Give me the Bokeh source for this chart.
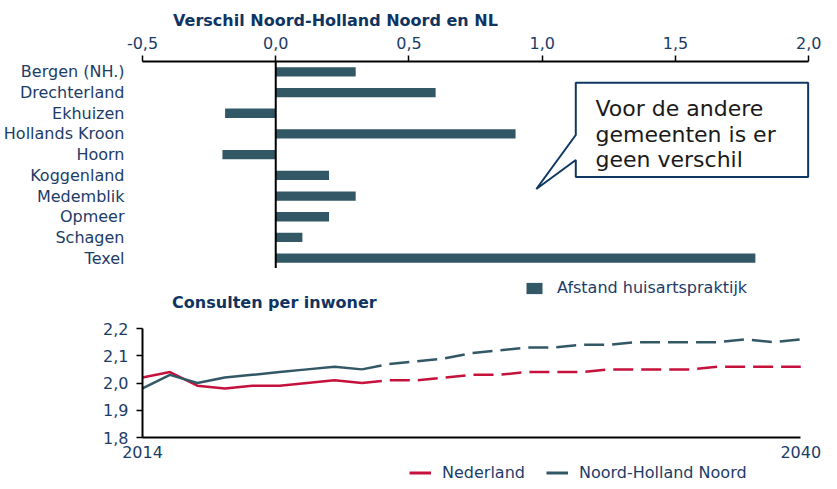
from bokeh.plotting import figure
from bokeh.models import (Range1d, FixedTicker, CustomJSTickFormatter, Span, Label,
                          Legend, LegendItem, ColumnDataSource)
from bokeh.layouts import column
from bokeh.embed import file_html
from bokeh.resources import INLINE
from bokeh.core.properties import value

FONT = "DejaVu Sans"
NAVY = "#1c3c68"
TITLE_NAVY = "#0f3462"
BAR = "#325866"
RED = "#c4123c"
W = 821
LEFT = 133               # common frame left border (column aligns frames)
FW = W - LEFT            # frame width
NAN = float("nan")

# ---------------- data ----------------
title_top = "Verschil Noord-Holland Noord en NL"
municipalities = ["Bergen (NH.)", "Drechterland", "Ekhuizen", "Hollands Kroon", "Hoorn",
                  "Koggenland", "Medemblik", "Opmeer", "Schagen", "Texel"]
verschil = [0.30, 0.60, -0.19, 0.90, -0.20, 0.20, 0.30, 0.20, 0.10, 1.80]
x_ticks_top = [-0.5, 0.0, 0.5, 1.0, 1.5, 2.0]
bar_legend = "Afstand huisartspraktijk"
callout_lines = ["Voor de andere", "gemeenten is er", "geen verschil"]

title_bottom = "Consulten per inwoner"
nederland = [2.02, 2.04, 1.99, 1.98, 1.99, 1.99, 2.00, 2.01, 2.00,
             2.01, 2.01, 2.02, 2.03, 2.03, 2.04, 2.04, 2.04, 2.05, 2.05,
             2.05, 2.05, 2.06, 2.06, 2.06, 2.06]
noord_holland_noord = [1.98, 2.03, 2.00, 2.02, 2.03, 2.04, 2.05, 2.06, 2.05,
                       2.07, 2.08, 2.09, 2.11, 2.12, 2.13, 2.13, 2.14, 2.14, 2.15,
                       2.15, 2.15, 2.15, 2.16, 2.15, 2.16]
n_observed = 9
period_labels = ["2014", "2040"]
y_ticks_bottom = [1.8, 1.9, 2.0, 2.1, 2.2]
line_names = ["Nederland", "Noord-Holland Noord"]

comma_fmt = CustomJSTickFormatter(code="return tick.toFixed(1).replace('.', ',');")


def text_fig(h):
    f = figure(width=W, height=h, output_backend="svg", toolbar_location=None,
               x_range=Range1d(0, FW), y_range=Range1d(h, 0),
               x_axis_location=None, y_axis_location=None,
               min_border_left=LEFT, min_border_right=0, min_border_top=0, min_border_bottom=0)
    f.outline_line_color = None
    f.grid.visible = False
    return f


def style_legend(lg, glyph_w, glyph_h, standoff):
    lg.glyph_width = glyph_w
    lg.glyph_height = glyph_h
    lg.label_height = 14
    lg.label_standoff = standoff
    lg.padding = 0
    lg.margin = 0
    lg.spacing = 21
    lg.border_line_color = None
    lg.background_fill_alpha = 0
    lg.label_text_font = FONT
    lg.label_text_font_size = "16px"
    lg.label_text_color = NAVY


def style_axis(ax):
    ax.major_label_text_font = FONT
    ax.major_label_text_font_size = "16px"
    ax.major_label_text_color = NAVY
    ax.minor_tick_line_color = None
    ax.major_tick_in = 0


# ---------------- title strip ----------------
t1 = text_fig(28)
t1.add_layout(Label(x=31, y=19.5, text=title_top, text_font=FONT, text_font_style="bold",
                    text_font_size="16px", text_color=TITLE_NAVY, text_baseline="alphabetic"))

# ---------------- top chart ----------------
rows = list(range(len(municipalities)))
src = ColumnDataSource(dict(y=rows, right=verschil, name=municipalities))

p1 = figure(width=W, height=240, output_backend="svg", toolbar_location=None,
            x_range=Range1d(-0.5, 2.0481),
            y_range=Range1d(len(municipalities) - 0.5, -0.5),
            x_axis_location="above",
            min_border_left=LEFT, min_border_right=0, min_border_top=33, min_border_bottom=0)
p1.outline_line_color = None
p1.grid.visible = False

p1.hbar(y="y", right="right", left=0, height=0.45, source=src, fill_color=BAR, line_color=None)
p1.add_layout(Span(location=0, dimension="height", line_color="black", line_width=2))

# callout
bx0, bx1, by0, by1 = 1.126, 1.998, 0.532, 5.08
p1.patch(x=[bx0, bx1, bx1, bx0, bx0, 0.978, bx0, bx0],
         y=[by0, by0, by1, by1, 4.26, 5.66, 3.05, by0],
         fill_color="white", line_color="#0f3763", line_width=2)
p1.text(x=[1.20] * 3, y=[1.75, 3.01, 4.25], text=callout_lines,
        text_font=value(FONT), text_font_size="22px", text_baseline="alphabetic",
        text_color="#1a1a1a")

xa = p1.xaxis[0]
xa.ticker = FixedTicker(ticks=x_ticks_top)
xa.formatter = comma_fmt
xa.bounds = (x_ticks_top[0], x_ticks_top[-1])
xa.axis_line_color = "black"
xa.axis_line_width = 2
xa.major_tick_line_color = "black"
xa.major_tick_line_width = 1.5
xa.major_tick_out = 6
xa.major_label_standoff = 7
style_axis(xa)

ya = p1.yaxis[0]
ya.ticker = FixedTicker(ticks=rows)
ya.formatter = CustomJSTickFormatter(args=dict(cat_names=municipalities),
                                     code="return cat_names[Math.round(tick)] || '';")
ya.axis_line_color = None
ya.major_tick_line_color = None
ya.major_label_standoff = 12
style_axis(ya)

# ---------------- middle strip: bar legend + bottom title ----------------
t2 = text_fig(44)
dummy_bar = t2.hbar(y=[NAN], right=[NAN], left=0, height=0.4, fill_color=BAR, line_color=None)
lg1 = Legend(items=[LegendItem(label=bar_legend, renderers=[dummy_bar])], location=(382, 15))
style_legend(lg1, 20, 14, 13)
t2.add_layout(lg1)
t2.add_layout(Label(x=30, y=34.2, text=title_bottom, text_font=FONT, text_font_style="bold",
                    text_font_size="16px", text_color=TITLE_NAVY, text_baseline="alphabetic"))

# ---------------- bottom chart ----------------
idx = list(range(len(nederland)))
last = len(idx) - 1

p2 = figure(width=W, height=152, output_backend="svg", toolbar_location=None,
            x_range=Range1d(0, last + 0.756), y_range=Range1d(1.8, 2.2),
            min_border_left=LEFT, min_border_right=0, min_border_top=16, min_border_bottom=27)
p2.outline_line_color = None
p2.grid.visible = False

k = n_observed
p2.line(idx[:k], nederland[:k], line_color=RED, line_width=2.5)
p2.line(idx[k - 1:], nederland[k - 1:], line_color=RED, line_width=2.5, line_dash="20 8")
p2.line(idx[:k], noord_holland_noord[:k], line_color=BAR, line_width=2.5)
p2.line(idx[k - 1:], noord_holland_noord[k - 1:], line_color=BAR, line_width=2.5,
        line_dash="20 8")

xb = p2.xaxis[0]
xb.ticker = FixedTicker(ticks=[0, last])
xb.formatter = CustomJSTickFormatter(
    args=dict(tick_pos=[0, last], tick_text=period_labels),
    code="const i = tick_pos.indexOf(tick); return i >= 0 ? tick_text[i] : '';")
xb.bounds = (0, last)
xb.axis_line_color = "black"
xb.axis_line_width = 2
xb.major_tick_line_color = None
xb.major_tick_out = 0
xb.major_label_standoff = 8
style_axis(xb)

yb = p2.yaxis[0]
yb.ticker = FixedTicker(ticks=y_ticks_bottom)
yb.formatter = comma_fmt
yb.axis_line_color = "black"
yb.axis_line_width = 2
yb.major_tick_line_color = "black"
yb.major_tick_line_width = 1.5
yb.major_tick_out = 6
yb.major_label_standoff = 8
style_axis(yb)

# ---------------- bottom strip: line legend ----------------
t3 = text_fig(17)
d_nl = t3.line(x=[NAN], y=[NAN], line_color=RED, line_width=3)
d_nh = t3.line(x=[NAN], y=[NAN], line_color=BAR, line_width=3)
lg2 = Legend(items=[LegendItem(label=line_names[0], renderers=[d_nl]),
                    LegendItem(label=line_names[1], renderers=[d_nh])],
             orientation="horizontal", location=(267, -1))
style_legend(lg2, 22, 19, 11)
t3.add_layout(lg2)

layout = column(t1, p1, t2, p2, t3)
open("out.html", "w").write(file_html(layout, INLINE))
